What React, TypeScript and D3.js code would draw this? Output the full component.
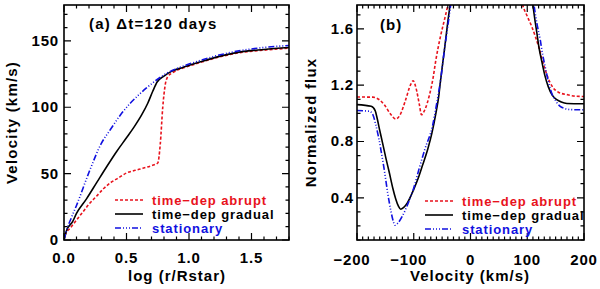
import React from 'react';
import * as d3 from 'd3';

// panel (a): velocity vs log(r/Rstar)
const velStationary: [number, number][] = [
  [0, 0], [0.02, 7], [0.06, 17], [0.1, 26], [0.2, 51], [0.3, 73], [0.37, 83], [0.45, 94],
  [0.53, 103], [0.6, 109.5], [0.66, 114.5], [0.74, 120.5], [0.82, 125.5], [0.9, 129], [1.0, 132.5],
  [1.1, 135.5], [1.25, 139.5], [1.4, 142.5], [1.6, 145], [1.8, 146.5],
];
const velGradual: [number, number][] = [
  [0, 0], [0.02, 7], [0.07, 14], [0.1, 20], [0.18, 31], [0.26, 43], [0.34, 55], [0.42, 66.5],
  [0.5, 77], [0.56, 85], [0.62, 94], [0.67, 103], [0.71, 112], [0.745, 119], [0.8, 123.5],
  [0.86, 127], [0.95, 130], [1.0, 131.5], [1.1, 134.5], [1.25, 138.5], [1.4, 141.5],
  [1.6, 143.5], [1.8, 145],
];
const velAbrupt: [number, number][] = [
  [0, 0], [0.01, 4], [0.05, 9], [0.1, 15], [0.15, 21], [0.2, 27], [0.26, 33], [0.32, 39],
  [0.37, 43], [0.44, 47], [0.5, 50.5], [0.57, 52.5], [0.63, 54], [0.7, 56], [0.75, 58],
  [0.77, 72], [0.79, 100], [0.81, 117], [0.83, 123], [0.87, 126], [0.95, 129.5], [1.0, 131],
  [1.1, 134], [1.25, 138], [1.4, 141], [1.6, 143], [1.8, 144.5],
];

// panel (b): normalized flux vs velocity, blue and red wings
const fluxAbruptBlue: [number, number][] = [
  [-200, 1.116], [-172, 1.115], [-160, 1.095], [-152, 1.062], [-140, 0.99], [-132, 0.96],
  [-124, 0.99], [-114, 1.1], [-106, 1.2], [-101, 1.232], [-96, 1.18], [-90, 1.06],
  [-86.5, 0.99], [-80, 1.03], [-73, 1.12], [-66, 1.25], [-61, 1.38], [-53, 1.545],
  [-45, 1.68], [-38, 1.8], [-33, 1.88],
];
const fluxAbruptRed: [number, number][] = [
  [86, 1.88], [92, 1.77], [100, 1.69], [108, 1.616], [120, 1.475], [131.6, 1.31], [140, 1.22],
  [146, 1.18], [155, 1.15], [170, 1.133], [185, 1.122], [200, 1.12],
];
const fluxGradualBlue: [number, number][] = [
  [-200, 1.062], [-175, 1.05], [-168, 1.02], [-164, 0.956], [-160, 0.88], [-155, 0.79],
  [-149, 0.68], [-143, 0.578], [-137, 0.47], [-131.6, 0.39], [-127, 0.34], [-123, 0.318],
  [-118, 0.33], [-111, 0.366], [-100, 0.46], [-92, 0.54], [-85, 0.625], [-75, 0.75],
  [-68, 0.86], [-61, 1.0], [-56, 1.12], [-52.6, 1.24], [-46, 1.45], [-40, 1.65], [-36, 1.77],
  [-32, 1.88],
];
const fluxGradualRed: [number, number][] = [
  [107, 1.88], [110, 1.77], [114, 1.65], [117, 1.57], [121, 1.46], [125.7, 1.368], [131, 1.27],
  [137, 1.19], [144, 1.13], [152, 1.097], [160, 1.08], [170, 1.07], [200, 1.068],
];
const fluxStatBlue: [number, number][] = [
  [-200, 1.02], [-178, 1.015], [-172, 0.99], [-167, 0.92], [-162, 0.83], [-158, 0.743],
  [-152, 0.6], [-146, 0.437], [-140, 0.3], [-135, 0.22], [-133, 0.205], [-128, 0.22],
  [-120, 0.27], [-110, 0.36], [-100, 0.47], [-91, 0.6], [-80, 0.75], [-67, 0.91],
  [-60, 1.06], [-52.6, 1.24], [-46, 1.45], [-40, 1.62], [-35, 1.77], [-31, 1.88],
];
const fluxStatRed: [number, number][] = [
  [109, 1.88], [112, 1.77], [117, 1.64], [123, 1.52], [127, 1.42], [131.6, 1.33], [137, 1.23],
  [143, 1.145], [150, 1.09], [158, 1.05], [166, 1.035], [175, 1.027], [200, 1.025],
];

const legendLabels = ['time−dep abrupt', 'time−dep gradual', 'stationary'];

const RED = '#e8121c';
const BLUE = '#1010e0';
const FONT = '"Liberation Sans", Arial, Helvetica, sans-serif';

const styles = [
  { color: RED, dash: '3 2' },
  { color: '#000', dash: undefined },
  { color: BLUE, dash: '6 2 1 2 1 2 1 2' },
];

type Sc = d3.ScaleLinear<number, number>;

function Ticks({ x, y, xMajor, xMinor, yMajor, yMinor }:
  { x: Sc; y: Sc; xMajor: number[]; xMinor: number[]; yMajor: number[]; yMinor: number[] }) {
  const [x0, x1] = x.range();
  const [y0, y1] = y.range(); // y0 bottom, y1 top
  const segs: string[] = [];
  xMajor.forEach(v => { const p = x(v); segs.push(`M${p},${y0}v-7M${p},${y1}v7`); });
  xMinor.forEach(v => { const p = x(v); segs.push(`M${p},${y0}v-3.5M${p},${y1}v3.5`); });
  yMajor.forEach(v => { const p = y(v); segs.push(`M${x0},${p}h7M${x1},${p}h-7`); });
  yMinor.forEach(v => { const p = y(v); segs.push(`M${x0},${p}h3.5M${x1},${p}h-3.5`); });
  return <path d={segs.join('')} stroke="#000" strokeWidth={1.2} fill="none" />;
}

function Legend({ x, y, dy }: { x: number; y: number; dy: number }) {
  return (
    <g>
      {legendLabels.map((t, i) => (
        <g key={t} transform={`translate(${x},${y + i * dy})`}>
          <line x1={0} x2={28} y1={0} y2={0} stroke={styles[i].color} strokeWidth={1.6}
            strokeDasharray={styles[i].dash} />
          <text x={37} y={4.5} fill={styles[i].color} fontSize={13} fontWeight="bold"
            letterSpacing={0.9}>{t}</text>
        </g>
      ))}
    </g>
  );
}

export default function App() {
  const width = 600, height = 289;
  const top = 5, bottom = 240;

  // panel a
  const xa = d3.scaleLinear().domain([0, 1.8]).range([64, 289]);
  const ya = d3.scaleLinear().domain([0, 177]).range([bottom, top]);
  // panel b
  const xb = d3.scaleLinear().domain([-200, 200]).range([357, 584]);
  const yb = d3.scaleLinear().domain([0.1, 1.77]).range([bottom, top]);

  const lineA = d3.line<[number, number]>().x(d => xa(d[0])).y(d => ya(d[1])).curve(d3.curveMonotoneX);
  const lineB = d3.line<[number, number]>().x(d => xb(d[0])).y(d => yb(d[1])).curve(d3.curveMonotoneX);

  const seriesA = [velAbrupt, velGradual, velStationary];
  const seriesB = [[fluxAbruptBlue, fluxAbruptRed], [fluxGradualBlue, fluxGradualRed], [fluxStatBlue, fluxStatRed]];

  const rng = (a: number, b: number, s: number) => d3.range(Math.round(a / s), Math.round(b / s) + 1).map(k => +(k * s).toFixed(4));

  const xaMajor = [0, 0.5, 1.0, 1.5];
  const xaMinor = rng(0, 1.8, 0.1).filter(v => !xaMajor.includes(v));
  const yaMajor = [0, 50, 100, 150];
  const yaMinor = rng(0, 170, 10).filter(v => !yaMajor.includes(v));
  const xbMajor = [-200, -100, 0, 100, 200];
  const xbMinor = rng(-200, 200, 10).filter(v => !xbMajor.includes(v));
  const ybMajor = [0.4, 0.8, 1.2, 1.6];
  const ybMinor = rng(0.1, 1.7, 0.1).filter(v => !ybMajor.some(m => Math.abs(m - v) < 1e-6));

  const tickFont = { fontSize: 15, fontWeight: 'bold' as const, letterSpacing: 0.8 };

  return (
    <svg width={width} height={height} style={{ position: 'absolute', left: 0, top: 0, background: '#fff' }}
      fontFamily={FONT}>
      <defs>
        <clipPath id="clipA"><rect x={64} y={top} width={225} height={bottom - top} /></clipPath>
        <clipPath id="clipB"><rect x={357} y={top} width={227} height={bottom - top} /></clipPath>
      </defs>

      {/* panel a */}
      <g clipPath="url(#clipA)">
        {seriesA.map((s, i) => (
          <path key={i} d={lineA(s) || ''} fill="none" stroke={styles[i].color} strokeWidth={1.6}
            strokeDasharray={styles[i].dash} />
        ))}
      </g>
      <rect x={64} y={top} width={225} height={bottom - top} fill="none" stroke="#000" strokeWidth={1.6} />
      <Ticks x={xa} y={ya} xMajor={xaMajor} xMinor={xaMinor} yMajor={yaMajor} yMinor={yaMinor} />
      {xaMajor.map(v => (
        <text key={v} x={xa(v)} y={263} textAnchor="middle" {...tickFont}>{v.toFixed(1)}</text>
      ))}
      {yaMajor.map(v => (
        <text key={v} x={59} y={ya(v) + 5} textAnchor="end" {...tickFont}>{v}</text>
      ))}
      <text x={177} y={281} textAnchor="middle" fontSize={15} fontWeight="bold" letterSpacing={1}>log (r/Rstar)</text>
      <text transform={`translate(17,${(top + bottom) / 2}) rotate(-90)`} textAnchor="middle" fontSize={15}
        fontWeight="bold" letterSpacing={1.2}>Velocity (km/s)</text>
      <text x={89} y={29} fontSize={15} fontWeight="bold" letterSpacing={1.2}>(a) Δt=120 days</text>
      <Legend x={115} y={200} dy={14} />

      {/* panel b */}
      <g clipPath="url(#clipB)">
        {seriesB.map((pair, i) => pair.map((s, j) => (
          <path key={`${i}-${j}`} d={lineB(s) || ''} fill="none" stroke={styles[i].color} strokeWidth={1.6}
            strokeDasharray={styles[i].dash} />
        )))}
      </g>
      <rect x={357} y={top} width={227} height={bottom - top} fill="none" stroke="#000" strokeWidth={1.6} />
      <Ticks x={xb} y={yb} xMajor={xbMajor} xMinor={xbMinor} yMajor={ybMajor} yMinor={ybMinor} />
      {xbMajor.map(v => (
        <text key={v} x={xb(v) - (v < 0 ? 5 : 0)} y={265} textAnchor="middle" {...tickFont}>
          {v < 0 ? `−${Math.abs(v)}` : v}
        </text>
      ))}
      {ybMajor.map(v => (
        <text key={v} x={354} y={yb(v) + 5} textAnchor="end" {...tickFont}>{v.toFixed(1)}</text>
      ))}
      <text x={470} y={281} textAnchor="middle" fontSize={15} fontWeight="bold" letterSpacing={1}>Velocity (km/s)</text>
      <text transform={`translate(316,${(top + bottom) / 2}) rotate(-90)`} textAnchor="middle" fontSize={15}
        fontWeight="bold" letterSpacing={1.2}>Normalized flux</text>
      <text x={380} y={30} fontSize={15} fontWeight="bold" letterSpacing={1}>(b)</text>
      <Legend x={425} y={201} dy={14} />
    </svg>
  );
}
